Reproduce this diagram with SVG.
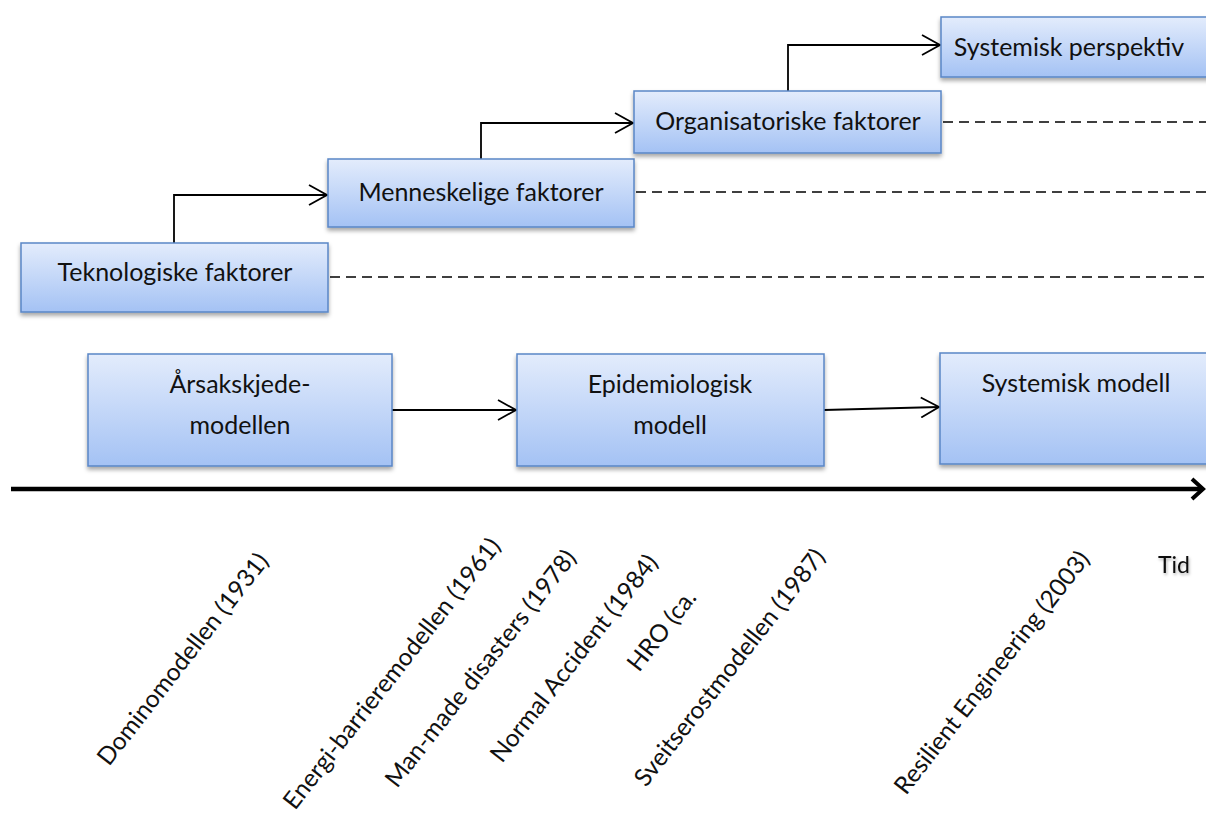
<svg xmlns="http://www.w3.org/2000/svg" width="1206" height="815" viewBox="0 0 1206 815">
<style>
.box{fill:url(#bg);stroke:#5a86c6;stroke-width:1.5;filter:url(#sh)}
.t{font-family:Lato,"Liberation Sans",sans-serif;font-size:25px;fill:#111}
.r{font-size:24.5px}
.c{text-anchor:middle}
.ln{fill:none;stroke:#000;stroke-width:1.8}
.dash{fill:none;stroke:#000;stroke-width:1.5;stroke-dasharray:10 6}
</style>
<defs>
<linearGradient id="bg" x1="0" y1="0" x2="0" y2="1">
<stop offset="0" stop-color="#e3ecfc"/>
<stop offset="1" stop-color="#a4c2f4"/>
</linearGradient>
<filter id="sh" x="-10%" y="-20%" width="120%" height="150%">
<feDropShadow dx="0" dy="3" stdDeviation="2" flood-color="#000" flood-opacity="0.35"/>
</filter>
<filter id="tsh" x="-20%" y="-20%" width="150%" height="160%">
<feDropShadow dx="1" dy="2" stdDeviation="1.5" flood-color="#000" flood-opacity="0.3"/>
</filter>
<marker id="ah" viewBox="0 0 20 22" refX="19" refY="11" markerWidth="20" markerHeight="22" markerUnits="userSpaceOnUse" orient="auto">
<path d="M1,1 L19,11 L1,21" fill="none" stroke="#000" stroke-width="1.8"/>
</marker>
<marker id="big" viewBox="0 0 16 24" refX="13" refY="12" markerWidth="16" markerHeight="24" markerUnits="userSpaceOnUse" orient="auto">
<path d="M2,2 L13,12 L2,22" fill="none" stroke="#000" stroke-width="4"/>
</marker>
</defs>
<g id="connectors">
<path class="ln" d="M174,243 V195 H327" marker-end="url(#ah)"/>
<path class="ln" d="M481,159 V123 H633" marker-end="url(#ah)"/>
<path class="ln" d="M788,91 V45 H940" marker-end="url(#ah)"/>
<path class="dash" d="M330,277 H1206"/>
<path class="dash" d="M636,192 H1206"/>
<path class="dash" d="M943,122 H1206"/>
<path class="ln" d="M392,410 H516" marker-end="url(#ah)"/>
<path class="ln" d="M824,410 L939,407" marker-end="url(#ah)"/>
<path class="ln" style="stroke-width:4.5" d="M11,489 H1203" marker-end="url(#big)"/>
</g>
<g id="teknologiske">
<rect class="box" x="21" y="243" width="307" height="69"/>
<text class="t c" x="175" y="281">Teknologiske faktorer</text>
</g>
<g id="menneskelige">
<rect class="box" x="328" y="159" width="306" height="68"/>
<text class="t c" x="481" y="201">Menneskelige faktorer</text>
</g>
<g id="organisatoriske">
<rect class="box" x="634" y="91" width="307" height="62"/>
<text class="t c" x="788" y="130">Organisatoriske faktorer</text>
</g>
<g id="systemisk-perspektiv">
<rect class="box" x="941" y="17" width="280" height="60"/>
<text class="t c" x="1069" y="56">Systemisk perspektiv</text>
</g>
<g id="arsakskjede">
<rect class="box" x="88" y="354" width="304" height="112"/>
<text class="t c" x="240" y="393">Årsakskjede-</text>
<text class="t c" x="240" y="434">modellen</text>
</g>
<g id="epidemiologisk">
<rect class="box" x="517" y="354" width="307" height="112"/>
<text class="t c" x="670" y="393">Epidemiologisk</text>
<text class="t c" x="670" y="434">modell</text>
</g>
<g id="systemisk-modell">
<rect class="box" x="940" y="353" width="290" height="111"/>
<text class="t c" x="1076" y="392">Systemisk modell</text>
</g>
<g id="timeline-labels">
<text class="t r" transform="translate(109,767) rotate(-52)">Dominomodellen (1931)</text>
<text class="t r" transform="translate(295,811) rotate(-52)">Energi-barrieremodellen (1961)</text>
<text class="t r" transform="translate(397,789) rotate(-52)">Man-made disasters (1978)</text>
<text class="t r" transform="translate(502,764) rotate(-52)">Normal Accident (1984)</text>
<text class="t r" transform="translate(639,673) rotate(-52)">HRO (ca.</text>
<text class="t r" transform="translate(646,788) rotate(-52)">Sveitserostmodellen (1987)</text>
<text class="t r" transform="translate(906,796) rotate(-52)">Resilient Engineering (2003)</text>
<text class="t" style="font-size:23px;filter:url(#tsh)" x="1158" y="573">Tid</text>
</g>
</svg>
